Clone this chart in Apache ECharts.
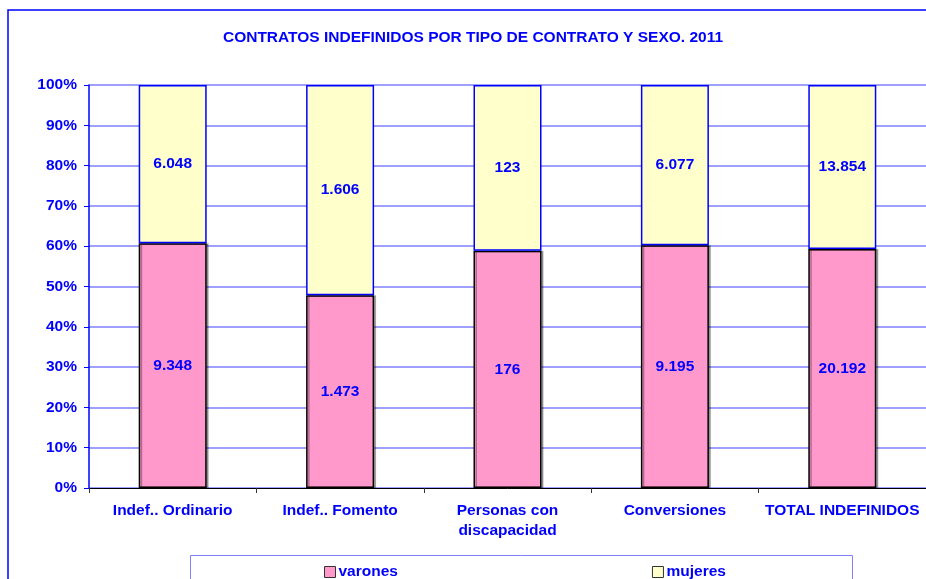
<!DOCTYPE html>
<html>
<head>
<meta charset="utf-8">
<script src="https://cdn.jsdelivr.net/npm/echarts@6/dist/echarts.min.js"></script>
<style>
  html, body { margin: 0; padding: 0; background: #fff; }
  #chart { width: 926px; height: 579px; }
</style>
</head>
<body>
<div id="chart"></div>
<script>
// categorias del eje x
var categories = ['Indef.. Ordinario', 'Indef.. Fomento', 'Personas con\ndiscapacidad', 'Conversiones', 'TOTAL INDEFINIDOS'];
// contratos por sexo
var varones = [9348, 1473, 176, 9195, 20192];
var mujeres = [6048, 1606, 123, 6077, 13854];
var yTicks = [0, 10, 20, 30, 40, 50, 60, 70, 80, 90, 100];

var BLUE = '#0000ff';
var FONT = '"Liberation Sans", Arial, sans-serif';
var FS = 15.5;

// 100% apilado
function pct(a, b, i) {
  return a[i] / (varones[i] + mujeres[i]) * 100;
}
function fmt(n) {
  return String(n).replace(/\B(?=(\d{3})+(?!\d))/g, '.');
}

var chart = echarts.init(document.getElementById('chart'), null, { renderer: 'canvas' });

var labelStyle = {
  show: true,
  position: 'inside',
  color: BLUE,
  fontFamily: FONT,
  fontWeight: 'bold',
  fontSize: FS
};

chart.setOption({
  animation: false,
  backgroundColor: '#fff',
  title: {
    text: 'CONTRATOS INDEFINIDOS POR TIPO DE CONTRATO Y SEXO. 2011',
    left: 468,
    textAlign: 'center',
    top: 25,
    textStyle: { color: BLUE, fontFamily: FONT, fontWeight: 'bold', fontSize: 15.5 }
  },
  graphic: [{
    type: 'rect',
    shape: { x: 8, y: 10, width: 940, height: 600 },
    style: { fill: 'none', stroke: BLUE, lineWidth: 1.5 },
    silent: true
  }, {
    type: 'rect',
    shape: { x: 190.5, y: 555.5, width: 662, height: 40 },
    style: { fill: '#fff', stroke: '#7f7fff', lineWidth: 1 },
    silent: true
  }],
  legend: {
    left: 319,
    top: 559,
    itemGap: 254,
    itemWidth: 11,
    itemHeight: 11,
    icon: 'rect',
    textStyle: { color: BLUE, fontFamily: FONT, fontWeight: 'bold', fontSize: FS, padding: [0, 0, 0, -2] },
    data: [
      { name: 'varones', itemStyle: { color: '#ff99cc', borderColor: '#333', borderWidth: 1 } },
      { name: 'mujeres', itemStyle: { color: '#ffffcc', borderColor: '#333', borderWidth: 1 } }
    ]
  },
  grid: { left: 89, top: 85, width: 840, height: 403, containLabel: false },
  xAxis: {
    type: 'category',
    data: categories,
    axisLine: { lineStyle: { color: '#000', width: 1 } },
    axisTick: { show: true, length: 5, lineStyle: { color: '#333' } },
    axisLabel: {
      color: BLUE, fontFamily: FONT, fontWeight: 'bold', fontSize: FS,
      margin: 13, lineHeight: 20, interval: 0
    }
  },
  yAxis: {
    type: 'value',
    min: yTicks[0],
    max: yTicks[yTicks.length - 1],
    interval: 10,
    axisLine: { show: true, lineStyle: { color: BLUE, width: 1.5 } },
    axisTick: { show: true, length: 5, lineStyle: { color: BLUE } },
    splitLine: { show: true, lineStyle: { color: '#7f7fff', width: 1.5 } },
    axisLabel: {
      formatter: '{value}%',
      color: BLUE, fontFamily: FONT, fontWeight: 'bold', fontSize: FS, margin: 12
    }
  },
  series: [{
    name: 'varones',
    type: 'bar',
    stack: 'total',
    barWidth: 68,
    itemStyle: {
      color: '#ff99cc', borderColor: '#000', borderWidth: 1.5,
      shadowColor: 'rgba(0,0,0,0.3)', shadowOffsetX: 2, shadowOffsetY: 0, shadowBlur: 0
    },
    label: Object.assign({}, labelStyle, {
      formatter: function (p) { return fmt(varones[p.dataIndex]); }
    }),
    data: varones.map(function (v, i) { return pct(varones, mujeres, i); })
  }, {
    name: 'mujeres',
    type: 'bar',
    stack: 'total',
    barWidth: 68,
    itemStyle: { color: '#ffffcc', borderColor: BLUE, borderWidth: 1.5 },
    label: Object.assign({}, labelStyle, {
      formatter: function (p) { return fmt(mujeres[p.dataIndex]); }
    }),
    data: mujeres.map(function (v, i) { return pct(mujeres, varones, i); })
  }]
});
</script>
</body>
</html>
